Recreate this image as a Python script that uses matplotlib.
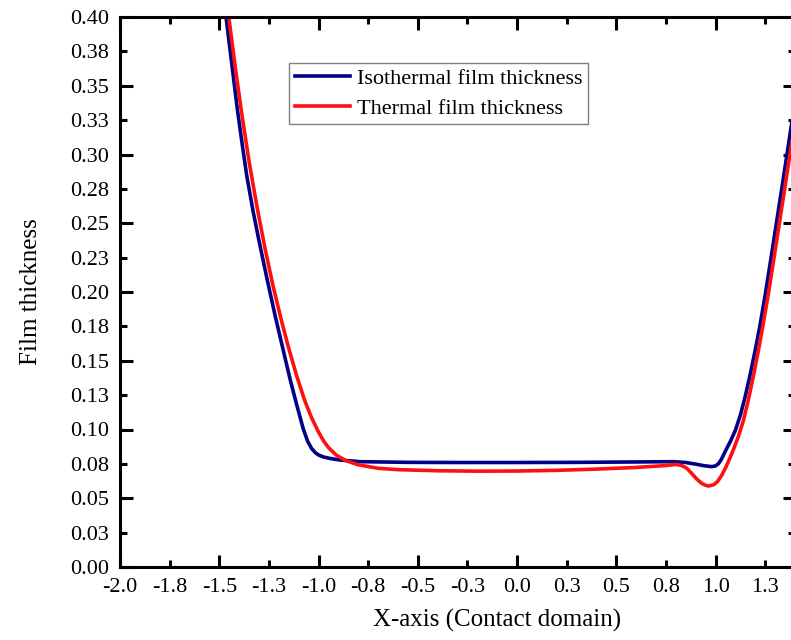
import matplotlib
matplotlib.use("Agg")
import matplotlib.pyplot as plt
from matplotlib.ticker import FixedLocator, FixedFormatter

plt.rcParams['font.family'] = ['Liberation Serif', 'DejaVu Serif']

# Isothermal film thickness (blue)
iso_x = [-1.50, -1.466, -1.437, -1.409, -1.385, -1.362, -1.330, -1.298, -1.260, -1.219,
         -1.180, -1.144, -1.110, -1.077, -1.055, -1.035, -1.015, -1.000, -0.975, -0.940,
         -0.892, -0.791, -0.540, -0.300, 0.000, 0.300, 0.600, 0.787, 0.850, 0.900,
         0.940, 0.980, 1.000, 1.015, 1.030, 1.050, 1.075, 1.100, 1.125, 1.150,
         1.175, 1.200, 1.224, 1.250, 1.280, 1.310, 1.340, 1.380, 1.420]
iso_y = [0.440, 0.400, 0.366, 0.333, 0.308, 0.285, 0.259, 0.236, 0.210, 0.183,
         0.159, 0.137, 0.118, 0.1005, 0.0915, 0.0862, 0.0830, 0.0815, 0.0800, 0.0789,
         0.0778, 0.0766, 0.0761, 0.0760, 0.0760, 0.0761, 0.0764, 0.0766, 0.0760, 0.0748,
         0.0737, 0.0730, 0.0735, 0.0752, 0.0785, 0.0845, 0.0915, 0.0995, 0.1105, 0.1245,
         0.1405, 0.158, 0.176, 0.198, 0.2255, 0.2535, 0.2815, 0.3195, 0.357]

# Thermal film thickness (red)
th_x = [-1.50, -1.452, -1.420, -1.387, -1.350, -1.310, -1.270, -1.230, -1.190, -1.150,
        -1.110, -1.070, -1.035, -1.000, -0.975, -0.951, -0.910, -0.866, -0.800, -0.700,
        -0.600, -0.400, -0.200, 0.000, 0.200, 0.400, 0.600, 0.750, 0.800, 0.830,
        0.855, 0.880, 0.905, 0.930, 0.950, 0.964, 0.990, 1.010, 1.030, 1.050,
        1.070, 1.090, 1.115, 1.140, 1.165, 1.190, 1.215, 1.239, 1.265, 1.295,
        1.325, 1.355, 1.395, 1.435]
th_y = [0.450, 0.400, 0.364, 0.330, 0.295, 0.262, 0.232, 0.205, 0.181, 0.159,
        0.139, 0.1212, 0.1086, 0.0981, 0.0918, 0.0870, 0.0813, 0.0776, 0.0743, 0.0718,
        0.0708, 0.0700, 0.0697, 0.0698, 0.0703, 0.0712, 0.0724, 0.0738, 0.0746, 0.0738,
        0.0718, 0.0680, 0.0640, 0.0608, 0.0594, 0.0589, 0.0598, 0.0622, 0.0665, 0.0720,
        0.0785, 0.0855, 0.0950, 0.1065, 0.1215, 0.1385, 0.157, 0.176, 0.198, 0.2255,
        0.2535, 0.2815, 0.3195, 0.357]

x_major = [-2.0, -1.5, -1.0, -0.5, 0.0, 0.5, 1.0]
x_major_labels = ['-2.0', '-1.5', '-1.0', '-0.5', '0.0', '0.5', '1.0']
x_minor = [-1.75, -1.25, -0.75, -0.25, 0.25, 0.75, 1.25]
x_minor_labels = ['-1.8', '-1.3', '-0.8', '-0.3', '0.3', '0.8', '1.3']

y_major = [0.0, 0.05, 0.10, 0.15, 0.20, 0.25, 0.30, 0.35, 0.40]
y_major_labels = ['0.00', '0.05', '0.10', '0.15', '0.20', '0.25', '0.30', '0.35', '0.40']
y_minor = [0.025, 0.075, 0.125, 0.175, 0.225, 0.275, 0.325, 0.375]
y_minor_labels = ['0.03', '0.08', '0.13', '0.18', '0.23', '0.28', '0.33', '0.38']

fig = plt.figure(figsize=(7.91, 6.40), dpi=100)
ax = fig.add_axes([120 / 791, 73 / 640, 675 / 791, 550 / 640])

ax.plot(iso_x, iso_y, color='#000088', linewidth=2.6, solid_joinstyle='round',
        label='Isothermal film thickness')
ax.plot(th_x, th_y, color='#FF1010', linewidth=2.6, solid_joinstyle='round',
        label='Thermal film thickness')

ax.set_xlim(-2.0, 1.4)
ax.set_ylim(0.0, 0.40)

ax.xaxis.set_major_locator(FixedLocator(x_major))
ax.xaxis.set_major_formatter(FixedFormatter(x_major_labels))
ax.xaxis.set_minor_locator(FixedLocator(x_minor))
ax.xaxis.set_minor_formatter(FixedFormatter(x_minor_labels))
ax.yaxis.set_major_locator(FixedLocator(y_major))
ax.yaxis.set_major_formatter(FixedFormatter(y_major_labels))
ax.yaxis.set_minor_locator(FixedLocator(y_minor))
ax.yaxis.set_minor_formatter(FixedFormatter(y_minor_labels))

ax.tick_params(which='both', direction='in', top=True, right=True,
               labelsize=16, width=2.2, pad=8, colors='black')
ax.tick_params(which='major', length=9)
ax.tick_params(which='minor', length=5)

for sp in ax.spines.values():
    sp.set_linewidth(2.2)

ax.set_xlabel('X-axis (Contact domain)', fontsize=18)
ax.set_ylabel('Film thickness', fontsize=18)
ax.xaxis.set_label_coords((497 - 120) / 675, -0.076)
ax.yaxis.set_label_coords(-0.115, 0.5)

leg = ax.legend(loc='upper left', bbox_to_anchor=((289 - 120) / 675, (567 - 63) / 550),
                borderaxespad=0, fontsize=16, handlelength=2.5, handletextpad=0.3,
                borderpad=0.25, labelspacing=0.4, fancybox=False, framealpha=1)
leg.get_frame().set_edgecolor('#808080')
leg.get_frame().set_linewidth(1.0)

fig.savefig('out.png', dpi=100)
